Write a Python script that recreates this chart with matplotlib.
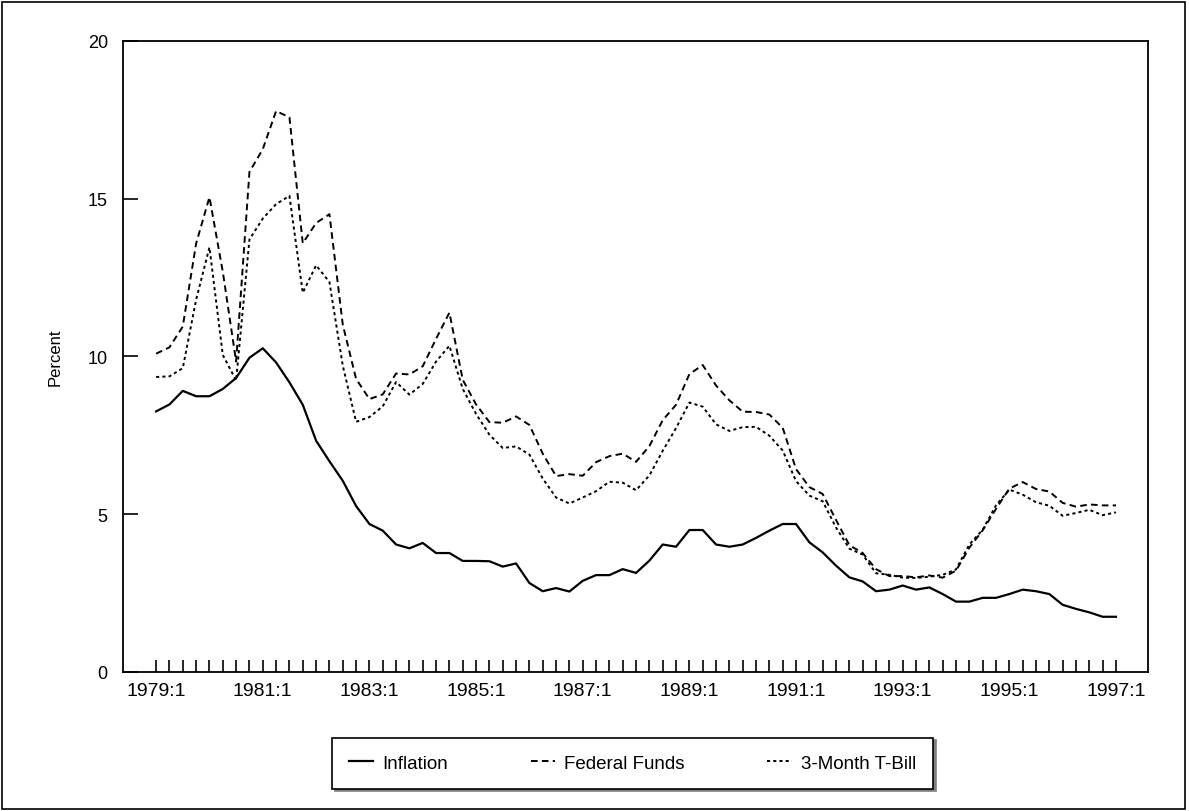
import matplotlib
matplotlib.use("Agg")
import matplotlib.pyplot as plt
from matplotlib.patches import Rectangle

plt.rcParams['font.family'] = ['Liberation Sans', 'DejaVu Sans']

# quarterly, 1979:1 .. 1997:1
quarters = [f"{1979 + i // 4}:{i % 4 + 1}" for i in range(73)]

inflation = [8.26, 8.48, 8.91, 8.74, 8.74, 8.97, 9.32, 9.96, 10.26, 9.81,
             9.18, 8.47, 7.33, 6.68, 6.06, 5.26, 4.69, 4.48, 4.04, 3.92,
             4.09, 3.77, 3.77, 3.52, 3.52, 3.51, 3.34, 3.44, 2.82, 2.56,
             2.66, 2.55, 2.89, 3.07, 3.07, 3.26, 3.14, 3.53, 4.04, 3.97,
             4.50, 4.50, 4.04, 3.97, 4.04, 4.25, 4.48, 4.69, 4.69, 4.11,
             3.79, 3.37, 3.00, 2.87, 2.56, 2.61, 2.74, 2.61, 2.68, 2.47,
             2.23, 2.23, 2.35, 2.35, 2.47, 2.61, 2.56, 2.47, 2.13, 2.00,
             1.89, 1.75, 1.75]

fed_funds = [10.09, 10.29, 10.95, 13.58, 15.05, 12.69, 9.84, 15.85, 16.57, 17.78,
             17.58, 13.59, 14.23, 14.51, 11.01, 9.29, 8.65, 8.80, 9.46, 9.43,
             9.69, 10.56, 11.39, 9.26, 8.48, 7.92, 7.90, 8.10, 7.83, 6.92,
             6.21, 6.27, 6.22, 6.65, 6.84, 6.92, 6.66, 7.16, 7.98, 8.47,
             9.44, 9.73, 9.08, 8.61, 8.25, 8.24, 8.16, 7.74, 6.43, 5.86,
             5.64, 4.82, 4.02, 3.77, 3.26, 3.04, 3.04, 3.00, 3.06, 2.99,
             3.21, 3.94, 4.49, 5.17, 5.81, 6.02, 5.80, 5.72, 5.36, 5.24,
             5.31, 5.28, 5.28]

tbill = [9.35, 9.37, 9.63, 11.80, 13.46, 10.05, 9.24, 13.71, 14.37, 14.83,
         15.09, 12.02, 12.89, 12.36, 9.71, 7.93, 8.08, 8.42, 9.19, 8.79,
         9.13, 9.84, 10.34, 8.97, 8.18, 7.52, 7.10, 7.15, 6.89, 6.13,
         5.53, 5.34, 5.53, 5.73, 6.03, 6.00, 5.76, 6.23, 7.01, 7.73,
         8.54, 8.41, 7.85, 7.64, 7.76, 7.77, 7.49, 7.02, 6.05, 5.59,
         5.41, 4.58, 3.91, 3.72, 3.13, 3.08, 2.99, 2.98, 3.02, 3.08,
         3.25, 4.04, 4.51, 5.28, 5.78, 5.62, 5.38, 5.27, 4.95, 5.04,
         5.14, 4.97, 5.06]

x = list(range(len(quarters)))

fig = plt.figure(figsize=(11.89, 8.12), dpi=100)
ax = fig.add_axes([0.1035, 0.1712, 0.862, 0.7771])

ax.plot(x, inflation, color='black', lw=1.6, label='Inflation')
ax.plot(x, fed_funds, color='black', lw=1.4, dashes=(3.4, 2.2), label='Federal Funds')
ax.plot(x, tbill, color='black', lw=1.4, dashes=(1.6, 1.6), label='3-Month T-Bill')

ax.set_xlim(-2.48, 74.4)
ax.set_ylim(0, 20)
ax.set_yticks([0, 5, 10, 15, 20])
ax.set_xticks(x)
ax.set_xticklabels([q if i % 8 == 0 else '' for i, q in enumerate(quarters)])
ax.tick_params(axis='x', direction='in', length=9, width=1.2, pad=7, labelsize=14)
ax.tick_params(axis='y', direction='in', length=11, width=1.2, pad=11, labelsize=13)
for s in ax.spines.values():
    s.set_linewidth(1.3)
ax.set_ylabel('Percent', fontsize=12, labelpad=18)

leg = fig.legend(loc='center', bbox_to_anchor=(0.532, 0.059), ncol=3,
                 fontsize=13.5, frameon=True, fancybox=False,
                 shadow={'color': 'gray', 'alpha': 1},
                 handlelength=1.3, handletextpad=0.5, columnspacing=4.4,
                 borderpad=0.9)
leg.get_frame().set_edgecolor('black')
leg.get_frame().set_linewidth(1.2)

fig.add_artist(Rectangle((0.002, 0.003), 0.995, 0.993, transform=fig.transFigure,
                         fill=False, edgecolor='black', lw=1.2))

fig.savefig('out.png', dpi=100)
